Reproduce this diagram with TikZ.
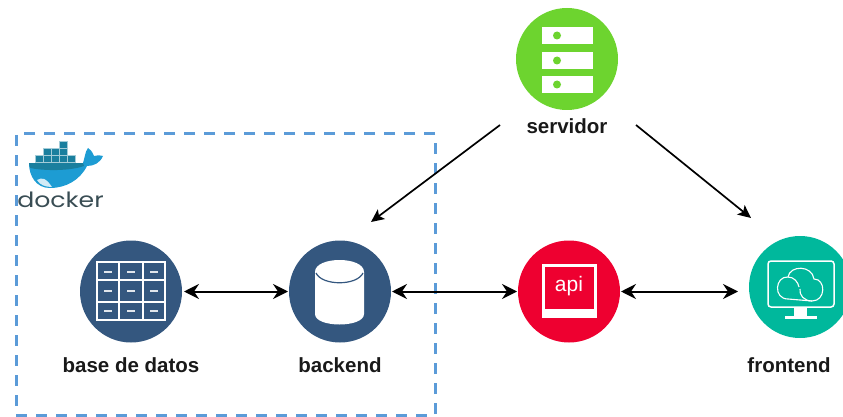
\documentclass[tikz,border=0pt]{standalone}
\usepackage{fontspec}
\setmainfont{Liberation Sans}
\newfontfamily\dockerfont{Poppins}
\definecolor{dbblue}{HTML}{34577F}
\definecolor{srvgreen}{HTML}{6DD42F}
\definecolor{apired}{HTML}{EE0030}
\definecolor{frontteal}{HTML}{00B89C}
\definecolor{dashblue}{HTML}{5B9BD8}
\definecolor{whaleblue}{HTML}{1D9CD3}
\definecolor{boxblue}{HTML}{1A7F9E}
\definecolor{dockgray}{HTML}{394D54}
\usetikzlibrary{arrows.meta}
\tikzset{
  icon/.style={circle,minimum size=102pt,inner sep=0pt,outer sep=0pt},
  lbl/.style={font=\bfseries\fontsize{20.5}{22}\selectfont,text=black!90},
  link/.style={line width=2pt,{Stealth[length=15pt,width=15pt,inset=5pt]}-{Stealth[length=15pt,width=15pt,inset=5pt]}},
  feed/.style={line width=1.7pt,-{Stealth[length=13pt,width=12pt,inset=3pt]}}
}

\begin{document}
\begin{tikzpicture}[x=1pt,y=-1pt]
  \useasboundingbox (0,0) rectangle (843,417);

  % docker box
  \node[draw=dashblue,line width=3pt,dash pattern=on 11pt off 9pt,minimum width=419pt,minimum height=281pt,inner sep=0pt] (box) at (225.5,274.5) {};

  % whale
  \foreach \x/\y in {35/155,43/155,51/155,59/155,67/155,43/148,51/148,59/148,59/141}
    \fill[boxblue,draw=white!60!boxblue,line width=.3pt] (\x,\y) rectangle ++(8,7.5);
  \fill[whaleblue] (29,163) -- (83,163) .. controls (85,157) and (85,152) .. (88,148) .. controls (92,151) and (93,153) .. (94,156) .. controls (97,155) and (100,155) .. (103,156) .. controls (100,163) and (94,166) .. (87,166) .. controls (80,180) and (66,188) .. (50,188) .. controls (36,188) and (29,176) .. (29,163) -- cycle;
  \fill[boxblue] (29,163) -- (83,163) -- (84,166) .. controls (70,171) and (45,171) .. (30,168) -- cycle;
  \fill[white!80!whaleblue] (37,180) .. controls (42,177) and (46,178) .. (52,187) .. controls (45,187) and (40,185) .. (37,180) -- cycle;
  \node[inner sep=0pt,font=\dockerfont\fontsize{21}{23}\selectfont,text=dockgray] (dockerlbl) at (60.5,200) {\scalebox{1.2}[1]{docker}};

  % base de datos
  \node[icon,fill=dbblue] (db) at (131,291.5) {};
  \draw[white,line width=1.5pt] (97,262) rectangle (165,320);
  \draw[white,line width=1.5pt] (119,262) -- (119,320) (143,262) -- (143,320) (97,280) -- (165,280) (97,302) -- (165,302);
  \foreach \x in {108,131,154}
    \foreach \y in {272,291,311}
      \draw[white!85!dbblue,line width=1.5pt] (\x-4,\y) -- (\x+4,\y);

  % backend
  \node[icon,fill=dbblue] (backend) at (340,291.5) {};
  \fill[white] (315,272) -- (364,272) -- (364,314) .. controls (364,328) and (315,328) .. (315,314) -- cycle;
  \fill[white] (315,272) .. controls (315,256) and (364,256) .. (364,272) .. controls (364,288) and (315,288) .. (315,272) -- cycle;
  \draw[dbblue,line width=1.2pt] (316,273) .. controls (322,286) and (357,286) .. (363,273);

  % api
  \node[icon,fill=apired] (api) at (569,291.5) {};
  \fill[white] (542,264) rectangle (597,318);
  \fill[apired] (545,267) rectangle (594,309);
  \node[inner sep=0pt,text=white,font=\fontsize{21}{23}\selectfont] (apilbl) at (569,286) {api};

  % frontend
  \node[icon,fill=frontteal] (front) at (800,287) {};
  \draw[white,line width=1.5pt,rounded corners=3pt] (768,261) rectangle (834,307);
  \fill[white] (794,307) rectangle (807,316);
  \fill[white] (785,316) rectangle (817,319);
  \draw[white,line width=1.1pt] (788,299) .. controls (773,299) and (775,276) .. (788,277) .. controls (790,265) and (812,265) .. (814,279) .. controls (826,279) and (826,301) .. (812,301) -- cycle;
  \draw[white,line width=1.1pt] (788,277) .. controls (794,277) and (798,282) .. (799,287);
  \draw[white,line width=1.1pt] (812,301) .. controls (804,301) and (799,295) .. (800,289);

  % servidor
  \node[icon,fill=srvgreen] (srv) at (567,59) {};
  \foreach \y in {27,52,76} {
    \fill[white] (542,\y) rectangle (593,\y+17);
    \fill[srvgreen] (557,\y+8.5) circle[radius=4];
  }

  % labels
  \node[lbl] (lbldb) at (131,365) {base de datos};
  \node[lbl] (lblbackend) at (340,365) {backend};
  \node[lbl] (lblfront) at (789,365) {frontend};
  \node[lbl] (lblsrv) at (567,126) {servidor};

  % connectors
  \coordinate (srvleft) at (500,125);
  \coordinate (srvright) at (636,125);
  \coordinate (backendin) at (371,222);
  \coordinate (frontin) at (751,218);
  \draw[link,shorten <=2pt,shorten >=1pt] (db) -- (backend);
  \draw[link,shorten <=1pt,shorten >=1pt] (backend) -- (api);
  \draw[link,shorten <=1pt,shorten >=11pt] (api) -- (front.west |- api);
  \draw[feed] (srvleft) -- (backendin);
  \draw[feed] (srvright) -- (frontin);
\end{tikzpicture}
\end{document}
